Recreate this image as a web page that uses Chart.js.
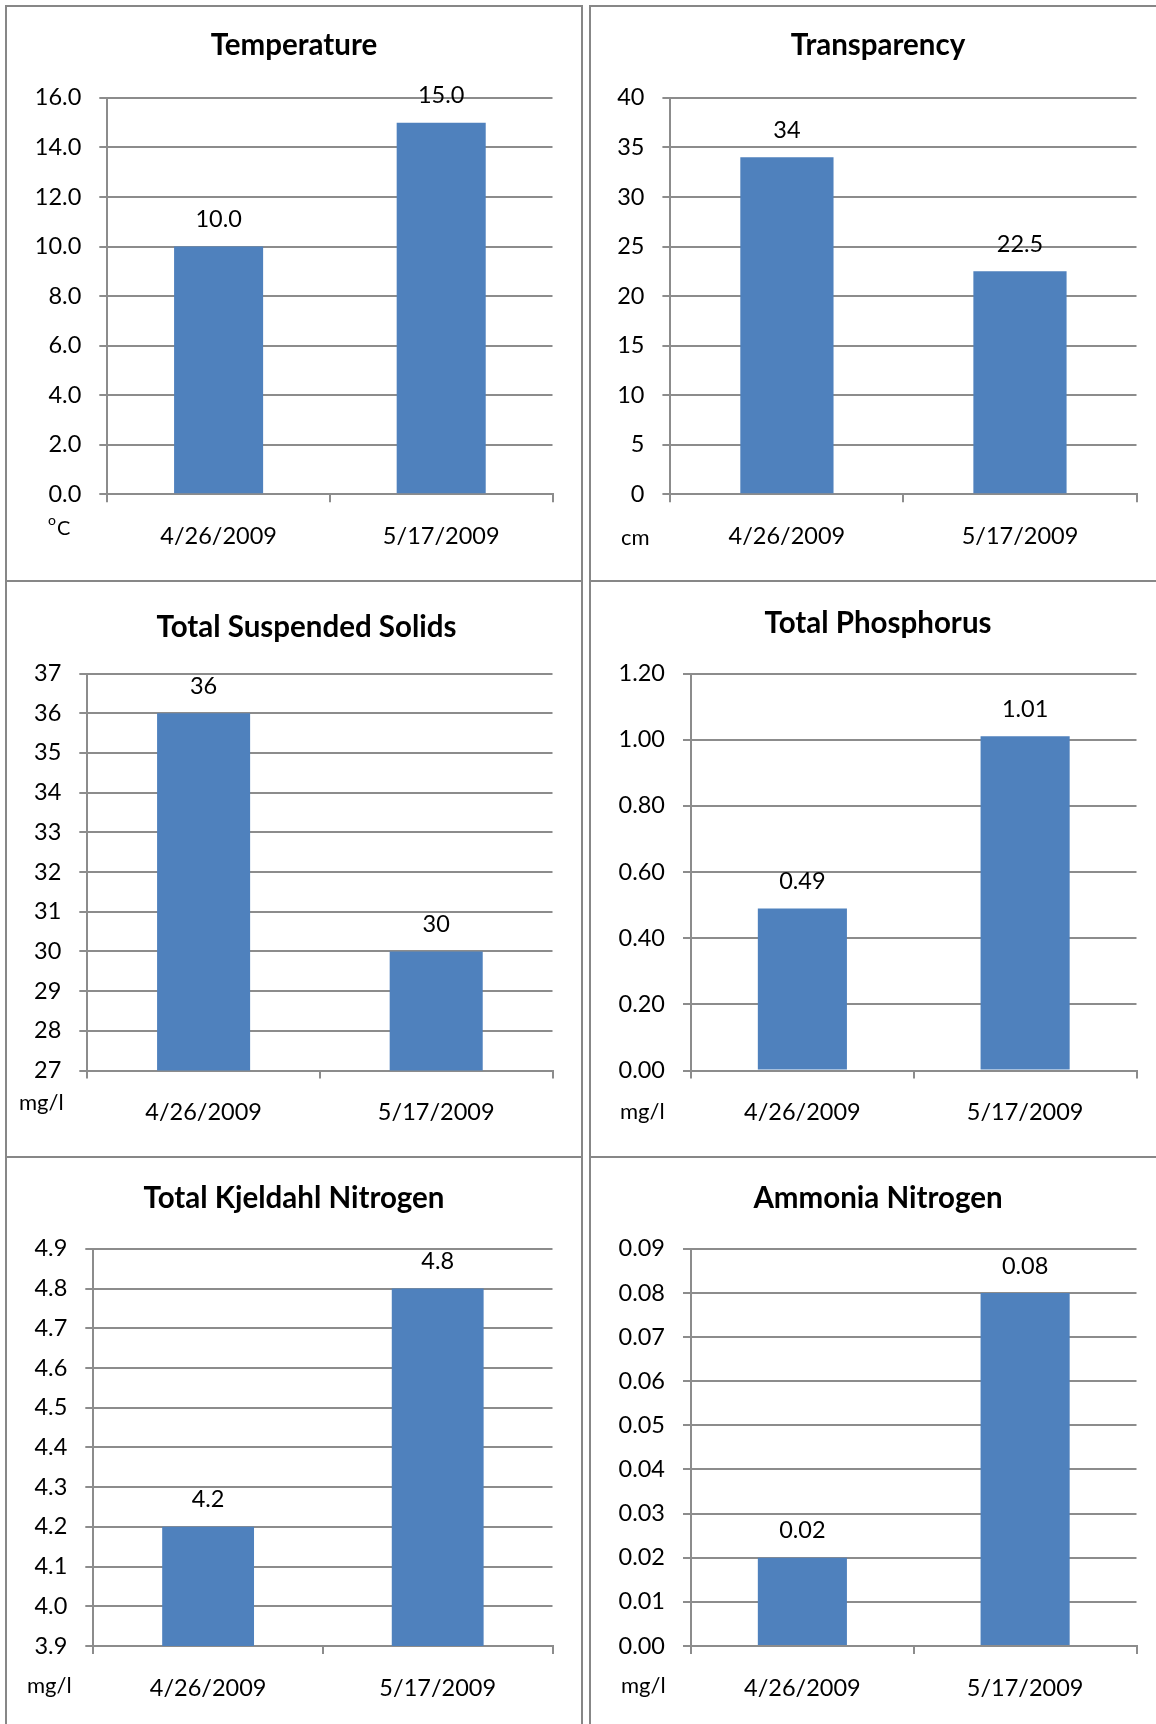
<!DOCTYPE html>
<html>
<head>
<meta charset="utf-8">
<title>Water quality – 2009 sampling</title>
<script src="https://cdn.jsdelivr.net/npm/chart.js@4.4.0/dist/chart.umd.min.js"></script>
<style>
  html, body { margin: 0; padding: 0; background: #fff; overflow: hidden; }
  body { width: 1156px; height: 1724px; position: relative; }
  .frame { position: absolute; border: 2px solid #878787; box-sizing: border-box; }
  canvas { position: absolute; }
</style>
</head>
<body>
<script>
// Sampling dates (x categories)
const dates = ['4/26/2009', '5/17/2009'];

// Measured values per parameter
const temperature     = [10.0, 15.0];   // ºC
const transparency    = [34, 22.5];     // cm
const suspendedSolids = [36, 30];       // mg/l
const phosphorus      = [0.49, 1.01];   // mg/l
const kjeldahlN       = [4.2, 4.8];     // mg/l
const ammoniaN        = [0.02, 0.08];   // mg/l

// Value axis ranges: [min, max, step]
const temperatureAxis  = [0, 16, 2];
const transparencyAxis = [0, 40, 5];
const solidsAxis       = [27, 37, 1];
const phosphorusAxis   = [0, 1.2, 0.2];
const kjeldahlAxis     = [3.9, 4.9, 0.1];
const ammoniaAxis      = [0, 0.09, 0.01];

// Decimal places shown for [ticks, value labels]
const temperatureDigits  = [1, 1];
const transparencyDigits = [0, null];
const solidsDigits       = [0, 0];
const phosphorusDigits   = [2, 2];
const kjeldahlDigits     = [1, 1];
const ammoniaDigits      = [2, 2];

const FONT = 'Lato, "Open Sans", sans-serif';
const GRID = '#8c8c8c';
const BAR = '#4F81BD';
const TEXT_SIZE = 23.5;
const TITLE_SIZE = 29.5;

function fmt(v, d) {
  if (d === null) return String(v);
  return Number(v).toFixed(d);
}

// Bold heading of each panel
const panelTitle = {
  id: 'panelTitle',
  afterDraw(chart, args, opts) {
    const ctx = chart.ctx;
    ctx.save();
    ctx.font = 'bold ' + opts.size + 'px ' + FONT;
    ctx.fillStyle = '#000';
    ctx.textAlign = 'center';
    ctx.textBaseline = 'middle';
    ctx.fillText(opts.text, opts.x, opts.y);
    ctx.restore();
  }
};

// Numbers written above each bar
const valueLabels = {
  id: 'valueLabels',
  afterDatasetsDraw(chart, args, opts) {
    const ctx = chart.ctx;
    const meta = chart.getDatasetMeta(0);
    const data = chart.data.datasets[0].data;
    ctx.save();
    ctx.font = opts.size + 'px ' + FONT;
    ctx.fillStyle = '#000';
    ctx.textAlign = 'center';
    ctx.textBaseline = 'middle';
    meta.data.forEach((bar, i) => {
      ctx.fillText(fmt(data[i], opts.digits), bar.x, bar.y - opts.offset);
    });
    ctx.restore();
  }
};

// Unit caption under the value axis
const unitCaption = {
  id: 'unitCaption',
  afterDraw(chart, args, opts) {
    const ctx = chart.ctx;
    ctx.save();
    ctx.fillStyle = '#000';
    ctx.textAlign = 'left';
    ctx.textBaseline = 'middle';
    if (opts.sup) {
      ctx.font = opts.supSize + 'px ' + FONT;
      ctx.fillText(opts.sup, opts.x, opts.y - opts.supRaise);
      const w = ctx.measureText(opts.sup).width;
      ctx.font = opts.size + 'px ' + FONT;
      ctx.fillText(opts.text, opts.x + w + 1, opts.y);
    } else {
      ctx.font = opts.size + 'px ' + FONT;
      ctx.fillText(opts.text, opts.x, opts.y);
    }
    ctx.restore();
  }
};

const COLS = [{ x: 5, w: 578 }, { x: 589, w: 578 }];
const ROWS = [{ y: 5, h: 577 }, { y: 580, h: 578 }, { y: 1156, h: 578 }];

function addFrame(col, row) {
  const f = document.createElement('div');
  f.className = 'frame';
  f.style.left = COLS[col].x + 'px';
  f.style.top = ROWS[row].y + 'px';
  f.style.width = COLS[col].w + 'px';
  f.style.height = ROWS[row].h + 'px';
  document.body.appendChild(f);
}

function panel(spec) {
  addFrame(spec.col, spec.row);
  const cx = COLS[spec.col].x + 2, cy = ROWS[spec.row].y + 2;
  const cw = COLS[spec.col].w - 4, ch = ROWS[spec.row].h - 4;
  const cv = document.createElement('canvas');
  cv.width = cw; cv.height = ch;
  cv.style.left = cx + 'px'; cv.style.top = cy + 'px';
  cv.style.width = cw + 'px'; cv.style.height = ch + 'px';
  document.body.appendChild(cv);

  const right = 28.5;
  const topRel = spec.plotTop - cy;
  const bottomRel = spec.plotBottom - cy;
  const yWidth = spec.plotLeft - cx;
  const xHeight = ch - bottomRel;
  const [min, max, step] = spec.axis;

  new Chart(cv, {
    type: 'bar',
    data: {
      labels: dates,
      datasets: [{
        data: spec.values,
        backgroundColor: BAR,
        borderWidth: 0,
        categoryPercentage: 1,
        barPercentage: 0.4
      }]
    },
    options: {
      responsive: false,
      animation: false,
      devicePixelRatio: 1,
      layout: { padding: { left: 0, right: right, top: topRel, bottom: 0 } },
      plugins: {
        legend: { display: false },
        tooltip: { enabled: false },
        title: { display: false },
        panelTitle: {
          text: spec.title, size: TITLE_SIZE,
          x: cw / 2 + (spec.titleShift || 0), y: spec.titleY - cy
        },
        valueLabels: { digits: spec.digits[1], size: TEXT_SIZE, offset: 27 },
        unitCaption: Object.assign({ size: 22 }, spec.unit, {
          x: spec.unit.x - cx, y: spec.unit.y - cy
        })
      },
      scales: {
        x: {
          offset: true,
          grid: { display: true, drawOnChartArea: false, drawTicks: true, tickLength: 8, color: GRID, lineWidth: 2, offset: true },
          border: { display: true, color: GRID, width: 2 },
          ticks: { color: '#000', font: { family: FONT, size: TEXT_SIZE }, padding: 20, maxRotation: 0 },
          afterFit(scale) { scale.height = xHeight; }
        },
        y: {
          min: min, max: max,
          grid: { color: GRID, lineWidth: 2, tickLength: 8, drawTicks: true },
          border: { display: true, color: GRID, width: 2 },
          ticks: {
            stepSize: step,
            color: '#000',
            font: { family: FONT, size: TEXT_SIZE },
            padding: 18,
            callback: (v) => fmt(v, spec.digits[0])
          },
          afterFit(scale) { scale.width = yWidth; }
        }
      }
    },
    plugins: [panelTitle, valueLabels, unitCaption]
  });
}

panel({ col: 0, row: 0, title: 'Temperature', values: temperature, axis: temperatureAxis, digits: temperatureDigits,
        plotLeft: 107.3, plotTop: 97.9, plotBottom: 494.2, titleY: 45,
        unit: { text: 'C', sup: 'o', supSize: 14, supRaise: 9, size: 20, x: 48, y: 529 } });
panel({ col: 1, row: 0, title: 'Transparency', values: transparency, axis: transparencyAxis, digits: transparencyDigits,
        plotLeft: 670.4, plotTop: 97.9, plotBottom: 494.2, titleY: 45,
        unit: { text: 'cm', x: 621, y: 538 } });
panel({ col: 0, row: 1, title: 'Total Suspended Solids', values: suspendedSolids, axis: solidsAxis, digits: solidsDigits,
        plotLeft: 87.3, plotTop: 673.5, plotBottom: 1070.6, titleY: 627, titleShift: 12.5,
        unit: { text: 'mg/l', x: 19, y: 1102.5 } });
panel({ col: 1, row: 1, title: 'Total Phosphorus', values: phosphorus, axis: phosphorusAxis, digits: phosphorusDigits,
        plotLeft: 691, plotTop: 673.5, plotBottom: 1070.6, titleY: 623,
        unit: { text: 'mg/l', x: 620, y: 1112 } });
panel({ col: 0, row: 2, title: 'Total Kjeldahl Nitrogen', values: kjeldahlN, axis: kjeldahlAxis, digits: kjeldahlDigits,
        plotLeft: 93.3, plotTop: 1248.8, plotBottom: 1646, titleY: 1198,
        unit: { text: 'mg/l', x: 27, y: 1686 } });
panel({ col: 1, row: 2, title: 'Ammonia Nitrogen', values: ammoniaN, axis: ammoniaAxis, digits: ammoniaDigits,
        plotLeft: 691, plotTop: 1248.8, plotBottom: 1646, titleY: 1198,
        unit: { text: 'mg/l', x: 621, y: 1686 } });
</script>
</body>
</html>
